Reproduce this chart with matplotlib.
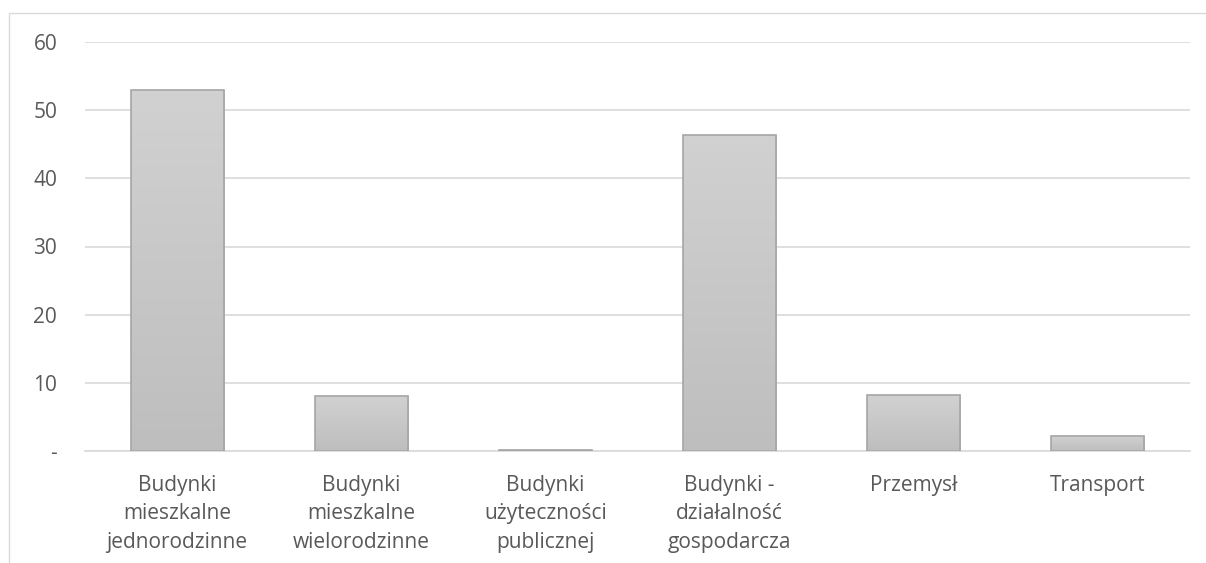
import matplotlib.pyplot as plt
import numpy as np
from matplotlib.patches import Rectangle

categories = ["Budynki\nmieszkalne\njednorodzinne", "Budynki\nmieszkalne\nwielorodzinne",
              "Budynki\nużyteczności\npublicznej", "Budynki -\ndziałalność\ngospodarcza",
              "Przemysł", "Transport"]
values = [52.9, 8.1, 0.2, 46.4, 8.2, 2.2]
yticks = [0, 10, 20, 30, 40, 50, 60]
ytick_labels = ["-", "10", "20", "30", "40", "50", "60"]

plt.rcParams['font.family'] = ['Open Sans', 'DejaVu Sans']
grey_text = "#595959"

fig = plt.figure(figsize=(12.06, 5.63), dpi=100)
# outer chart frame
fig.patches.append(Rectangle((9/1206, -0.1), 1.2, 1 - 13/563 + 0.1, transform=fig.transFigure,
                             fill=False, edgecolor="#d9d9d9", linewidth=1))
ax = fig.add_axes([85/1206, 1 - 451/563, 1105/1206, 409/563])

x = np.arange(len(values))
w = 0.505
bars = ax.bar(x, values, width=w, color="none", edgecolor="#a5a5a5", linewidth=1.2, zorder=3)
grad = np.linspace(0, 1, 100).reshape(-1, 1)
cmap = plt.matplotlib.colors.LinearSegmentedColormap.from_list("g", ["#bebebe", "#d1d1d1"])
for b in bars:
    bx, by = b.get_x(), b.get_y()
    bw, bh = b.get_width(), b.get_height()
    im = ax.imshow(grad, cmap=cmap, origin="lower", aspect="auto",
                   extent=(bx, bx + bw, by, by + bh), zorder=2)
    im.set_clip_path(b)

ax.set_xlim(-0.5, len(values) - 0.5)
ax.set_ylim(0, 60)
ax.set_yticks(yticks)
ax.set_yticklabels(ytick_labels)
ax.set_xticks(x)
ax.set_xticklabels(categories, linespacing=1.48)
ax.yaxis.grid(True, color="#d9d9d9", linewidth=1.2, zorder=0)
ax.set_axisbelow(True)
for s in ["top", "right", "left"]:
    ax.spines[s].set_visible(False)
ax.spines["bottom"].set_color("#d9d9d9")
ax.spines["bottom"].set_linewidth(1.2)
ax.tick_params(axis="both", length=0, colors=grey_text, labelsize=15)
ax.tick_params(axis="y", pad=20)
ax.tick_params(axis="x", pad=17)

fig.savefig("out.png", dpi=100)
